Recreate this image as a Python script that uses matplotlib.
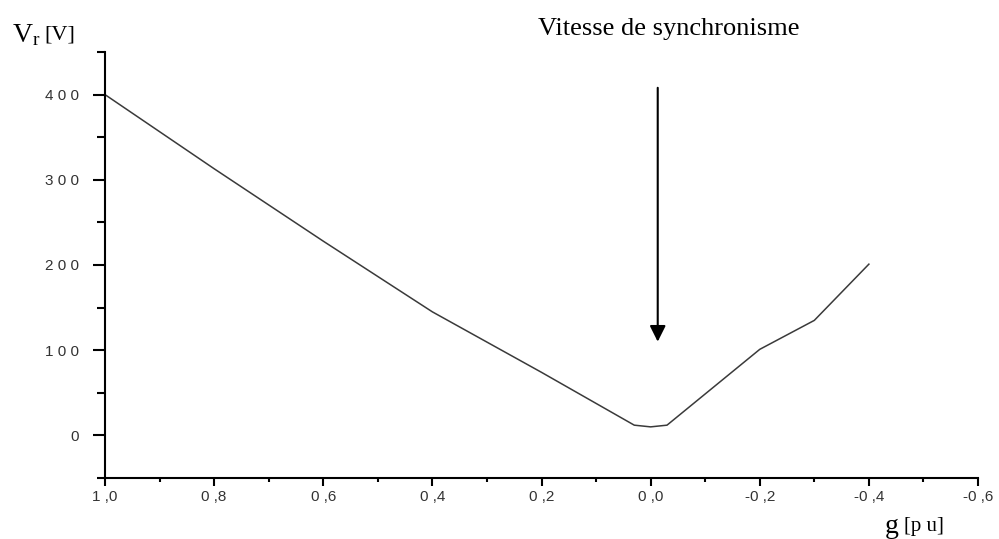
import matplotlib
matplotlib.use('Agg')
from matplotlib import pyplot as plt
from matplotlib.ticker import MultipleLocator, FixedLocator, FixedFormatter

# glissement g [p.u.] et tension rotorique Vr [V]
g = [1.0, 0.8, 0.6, 0.4, 0.2, 0.03, 0.0, -0.03, -0.2, -0.3, -0.4]
vr = [400, 313, 228, 145, 74, 12, 10, 12, 101, 135, 201]

x_ticks = [1.0, 0.8, 0.6, 0.4, 0.2, 0.0, -0.2, -0.4, -0.6]
x_labels = ['1 ,0', '0 ,8', '0 ,6', '0 ,4', '0 ,2', '0 ,0', '-0 ,2', '-0 ,4', '-0 ,6']
y_ticks = [0, 100, 200, 300, 400]
y_labels = ['0', '1 0 0', '2 0 0', '3 0 0', '4 0 0']

sync_g = -0.013
arrow_top, arrow_tip = 408, 110

fig = plt.figure(figsize=(9.99, 5.39), dpi=100)
ax = fig.add_axes([0.1051, 0.1132, 0.8739, 0.7903])

ax.plot(g, vr, color='#3a3a3a', lw=1.1)

ax.set_xlim(1.0, -0.6)
ax.set_ylim(-50, 450)

ax.xaxis.set_major_locator(FixedLocator(x_ticks))
ax.xaxis.set_major_formatter(FixedFormatter(x_labels))
ax.xaxis.set_minor_locator(MultipleLocator(0.1))
ax.yaxis.set_major_locator(FixedLocator(y_ticks))
ax.yaxis.set_major_formatter(FixedFormatter(y_labels))
ax.yaxis.set_minor_locator(MultipleLocator(50))

for s in ['top', 'right']:
    ax.spines[s].set_visible(False)
for s in ['left', 'bottom']:
    ax.spines[s].set_linewidth(1.5)

ax.tick_params(axis='y', which='major', length=8.6, width=1.5, pad=10)
ax.tick_params(axis='y', which='minor', length=5.8, width=1.5)
ax.tick_params(axis='x', which='major', length=5.8, width=1.5, pad=3)
ax.tick_params(axis='x', which='minor', length=3.2, width=1.5)
for lab in ax.get_xticklabels() + ax.get_yticklabels():
    lab.set_fontfamily('Liberation Sans')
    lab.set_fontsize(11)
    lab.set_color('#333333')

ax.annotate('', xy=(sync_g, arrow_tip), xytext=(sync_g, arrow_top),
            arrowprops=dict(arrowstyle='-|>', color='black', lw=1.5,
                            mutation_scale=24, shrinkA=0, shrinkB=0))

fig.text(0.669, 0.946, 'Vitesse de synchronisme', ha='center', va='center',
         family='Liberation Serif', fontsize=19)
fig.text(0.012, 0.935, r'$\mathregular{V_r}$', ha='left', va='center',
         family='Liberation Serif', fontsize=20)
fig.text(0.044, 0.935, '[V]', ha='left', va='center',
         family='Liberation Serif', fontsize=16)
fig.text(0.886, 0.024, 'g', ha='left', va='center',
         family='Liberation Serif', fontsize=20)
fig.text(0.905, 0.024, '[p u]', ha='left', va='center',
         family='Liberation Serif', fontsize=15)

fig.savefig('out.png', dpi=100)
